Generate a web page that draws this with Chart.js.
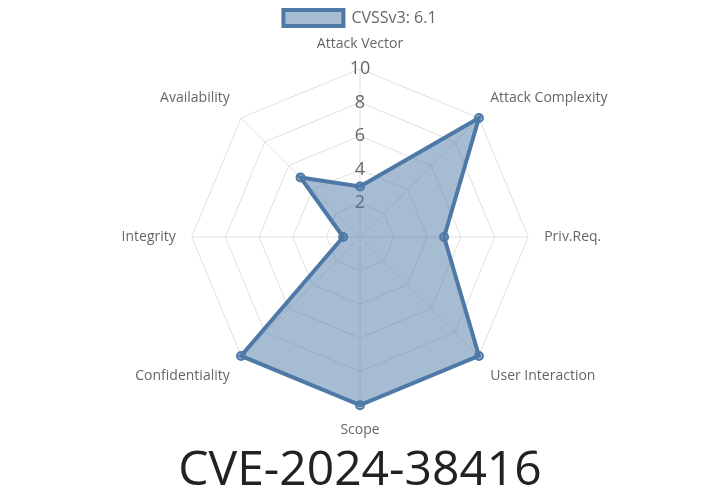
<!DOCTYPE html>
<html><head><meta charset="utf-8">
<script src="https://cdn.jsdelivr.net/npm/chart.js@4"></script>
<style>html,body{margin:0;padding:0;background:#fff}#w{width:720px;height:504px}</style>
</head><body><div id="w"><canvas id="c"></canvas></div>
<script>
const categories = ["Attack Vector","Attack Complexity","Priv.Req.","User Interaction","Scope","Confidentiality","Integrity","Availability"];
const seriesLabel = "CVSSv3: 6.1";
const values = [3, 10, 5, 10, 10, 10, 1, 5];
const titleText = "CVE-2024-38416";
new Chart(document.getElementById('c'), {
  type: 'radar',
  data: { labels: categories, datasets: [{
    label: seriesLabel, data: values,
    backgroundColor: 'rgba(78,121,167,0.5)', borderColor: '#4e79a7', borderWidth: 4,
    pointBackgroundColor: 'rgba(78,121,167,0.5)', pointBorderColor: '#4e79a7', pointBorderWidth: 2, pointRadius: 4
  }]},
  options: {
    responsive: true, maintainAspectRatio: false, animation: false,
    layout: { padding: { top: 0, bottom: 0 } },
    plugins: {
      legend: { position: 'top', labels: { font: { size: 16, family: 'Open Sans' }, color: '#666', boxWidth: 60, boxHeight: 16 } },
      title: { display: true, position: 'bottom', text: titleText, font: { size: 48, family: 'Open Sans', weight: 'normal' }, color: '#222', padding: { top: 4, bottom: 4 } }
    },
    scales: { r: {
      min: 0, max: 10,
      ticks: { stepSize: 2, font: { size: 18, family: 'Open Sans' }, color: '#666', showLabelBackdrop: false, callback: v => v === 0 ? '' : v },
      pointLabels: { font: { size: 14, family: 'Open Sans' }, color: '#666' },
      grid: { color: '#e0e0e0' }, angleLines: { color: '#e0e0e0' }
    }}
  }
});
</script></body></html>
